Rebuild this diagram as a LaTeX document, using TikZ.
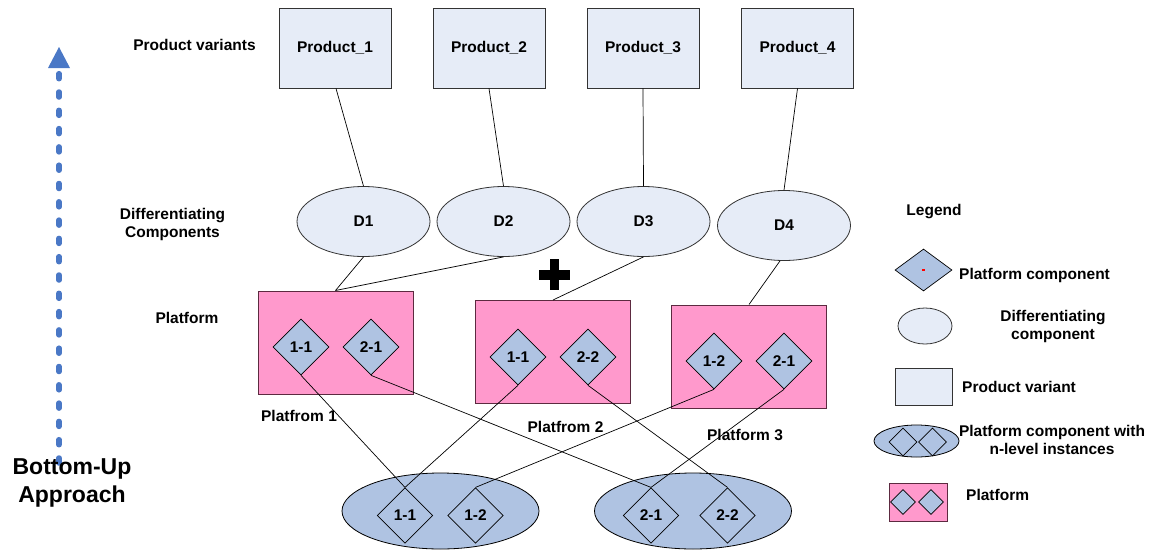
\documentclass[tikz,border=0pt]{standalone}
\usepackage{fontspec}
\setmainfont{Liberation Sans}
\usetikzlibrary{shapes.geometric}

\definecolor{pvfill}{HTML}{E6ECF7}
\definecolor{pcfill}{HTML}{AFC3E2}
\definecolor{pfill}{HTML}{FF99CC}
\definecolor{pedge}{HTML}{5C2A40}
\definecolor{gedge}{HTML}{333333}
\definecolor{arrowblue}{HTML}{4A78C6}

\tikzset{
  lbl/.style={font=\bfseries\fontsize{15.5}{18}\selectfont, inner sep=0pt, align=center},
  variant/.style={draw=gedge, fill=pvfill, line width=0.9pt, minimum width=112, minimum height=80, inner sep=0pt, lbl},
  diffcomp/.style={ellipse, draw=gedge, fill=pvfill, line width=0.8pt, minimum width=133, minimum height=70, inner sep=0pt, lbl},
  platbox/.style={draw=pedge, fill=pfill, line width=1pt, minimum width=155, minimum height=103, inner sep=0pt},
  pcomp/.style={diamond, aspect=1, draw=black, fill=pcfill, line width=0.7pt, minimum size=56, inner sep=0pt, lbl},
  instset/.style={ellipse, draw=black, fill=pcfill, line width=0.8pt, minimum width=197, minimum height=76, inner sep=0pt},
  link/.style={draw=black, line width=0.7pt},
}

\begin{document}
\begin{tikzpicture}[x=1pt, y=-1pt]
\useasboundingbox (0,0) rectangle (1157,552);

% bottom-up arrow
\coordinate (arrbot) at (59,463);
\coordinate (arrtop) at (59,73);
\draw[arrowblue, line width=5.5pt, line cap=round, dash pattern=on 5pt off 13.3pt] (arrbot) -- (arrtop);
\fill[arrowblue] (48,68) -- (70,68) -- (59,47) -- cycle;
\node[lbl, font=\bfseries\fontsize{23}{28}\selectfont] (approach) at (72,483) {Bottom-Up\\Approach};

% row labels
\node[lbl] (lvariants) at (194.5,45) {Product variants};
\node[lbl] (ldiff) at (172.5,224) {Differentiating\\Components};
\node[lbl] (lplat) at (187,318) {Platform};

% product variants
\node[variant] (p1) at (335,48) {Product\_1};
\node[variant] (p2) at (489,48) {Product\_2};
\node[variant] (p3) at (643,48) {Product\_3};
\node[variant] (p4) at (797.5,48) {Product\_4};

% differentiating components
\node[diffcomp] (d1) at (363.5,221.5) {D1};
\node[diffcomp] (d2) at (503.5,221.5) {D2};
\node[diffcomp] (d3) at (643.5,221.5) {D3};
\node[diffcomp] (d4) at (784,225.5) {D4};

% platforms
\node[platbox] (pl1) at (335.5,342.5) {};
\node[platbox] (pl2) at (553,352) {};
\node[platbox] (pl3) at (749,356.5) {};

\node[pcomp] (a11) at (301,347) {1-1};
\node[pcomp] (a21) at (371,347) {2-1};
\node[pcomp] (b11) at (518,357) {1-1};
\node[pcomp] (b22) at (588,357) {2-2};
\node[pcomp] (c12) at (714,361) {1-2};
\node[pcomp] (c21) at (784,361) {2-1};

\node[lbl] (lpl1) at (299,416) {Platfrom 1};
\node[lbl] (lpl2) at (565.5,427) {Platfrom 2};
\node[lbl] (lpl3) at (745,435) {Platform 3};

% plus sign
\fill[black] (539,270) rectangle (570,279.5);
\fill[black] (549.8,259) rectangle (559.3,290);

% component instance sets
\node[instset] (set1) at (440.5,511) {};
\node[instset] (set2) at (693,511) {};
\node[pcomp, minimum size=55.5] (i11) at (405,515.5) {1-1};
\node[pcomp, minimum size=55.5] (i12) at (475.5,515.5) {1-2};
\node[pcomp, minimum size=55.5] (i21) at (651,515.5) {2-1};
\node[pcomp, minimum size=55.5] (i22) at (727.5,515.5) {2-2};

% connectors: variants to differentiating components
\path (p1.south) ++(1,0) coordinate (p1b);
\draw[link] (p1b) -- (d1.north);
\draw[link] (p2.south) -- (d2.north);
\draw[link] (p3.south) -- (d3.north);
\draw[link] (p4.south) -- (d4.north);

% connectors: differentiating components to platforms
\draw[link] (d1.south) -- (pl1.north);
\draw[link] (d2.south) -- (pl1.north);
\draw[link] (d3.south) -- (pl2.north);
\path (d4.south) ++(-4,0) coordinate (d4b);
\draw[link] (d4b) -- (pl3.north);

% connectors: platform components to their instances
\draw[link] (a11.south) -- (i11.north);
\draw[link] (a21.south) -- (i21.north);
\draw[link] (b11.south) -- (i11.north);
\draw[link] (b22.south) -- (i22.north);
\draw[link] (c12.south) -- (i12.north);
\draw[link] (c21.south) -- (i21.north);

% legend
\node[lbl] (lleg) at (934,212) {Legend};

\node[diamond, draw=black, fill=pcfill, line width=0.7pt, minimum width=57, minimum height=42, inner sep=0pt] (kpc) at (923.5,270) {};
\fill[red] (kpc.center) ++(-1.2,-1.2) rectangle ++(2.4,2.4);
\node[lbl, anchor=west] (kpctxt) at (959,275) {Platform component};

\node[ellipse, draw=gedge, fill=pvfill, line width=0.8pt, minimum width=54, minimum height=36, inner sep=0pt] (kdc) at (925,326) {};
\node[lbl] (kdctxt) at (1053,326.5) {Differentiating\\component};

\node[draw=gedge, fill=pvfill, line width=0.9pt, minimum width=57, minimum height=37, inner sep=0pt] (kpv) at (923.5,386.5) {};
\node[lbl, anchor=west] (kpvtxt) at (962,387) {Product variant};

\node[ellipse, draw=black, fill=pcfill, line width=0.8pt, minimum width=85, minimum height=32, inner sep=0pt] (kset) at (916.5,441) {};
\node[diamond, aspect=1, draw=black, fill=pcfill, line width=0.7pt, minimum size=28, inner sep=0pt] (kset1) at (903,442) {};
\node[diamond, aspect=1, draw=black, fill=pcfill, line width=0.7pt, minimum size=28, inner sep=0pt] (kset2) at (932.5,442) {};
\node[lbl] (ksettxt) at (1052,439.5) {Platform component with\\n-level instances};

\node[draw=pedge, fill=pfill, line width=1pt, minimum width=58, minimum height=38, inner sep=0pt] (kpl) at (918,502) {};
\node[diamond, aspect=1, draw=black, fill=pcfill, line width=0.7pt, minimum size=25, inner sep=0pt] (kpl1) at (903,502) {};
\node[diamond, aspect=1, draw=black, fill=pcfill, line width=0.7pt, minimum size=25, inner sep=0pt] (kpl2) at (931,502) {};
\node[lbl, anchor=west] (kpltxt) at (966,495) {Platform};
\end{tikzpicture}
\end{document}
